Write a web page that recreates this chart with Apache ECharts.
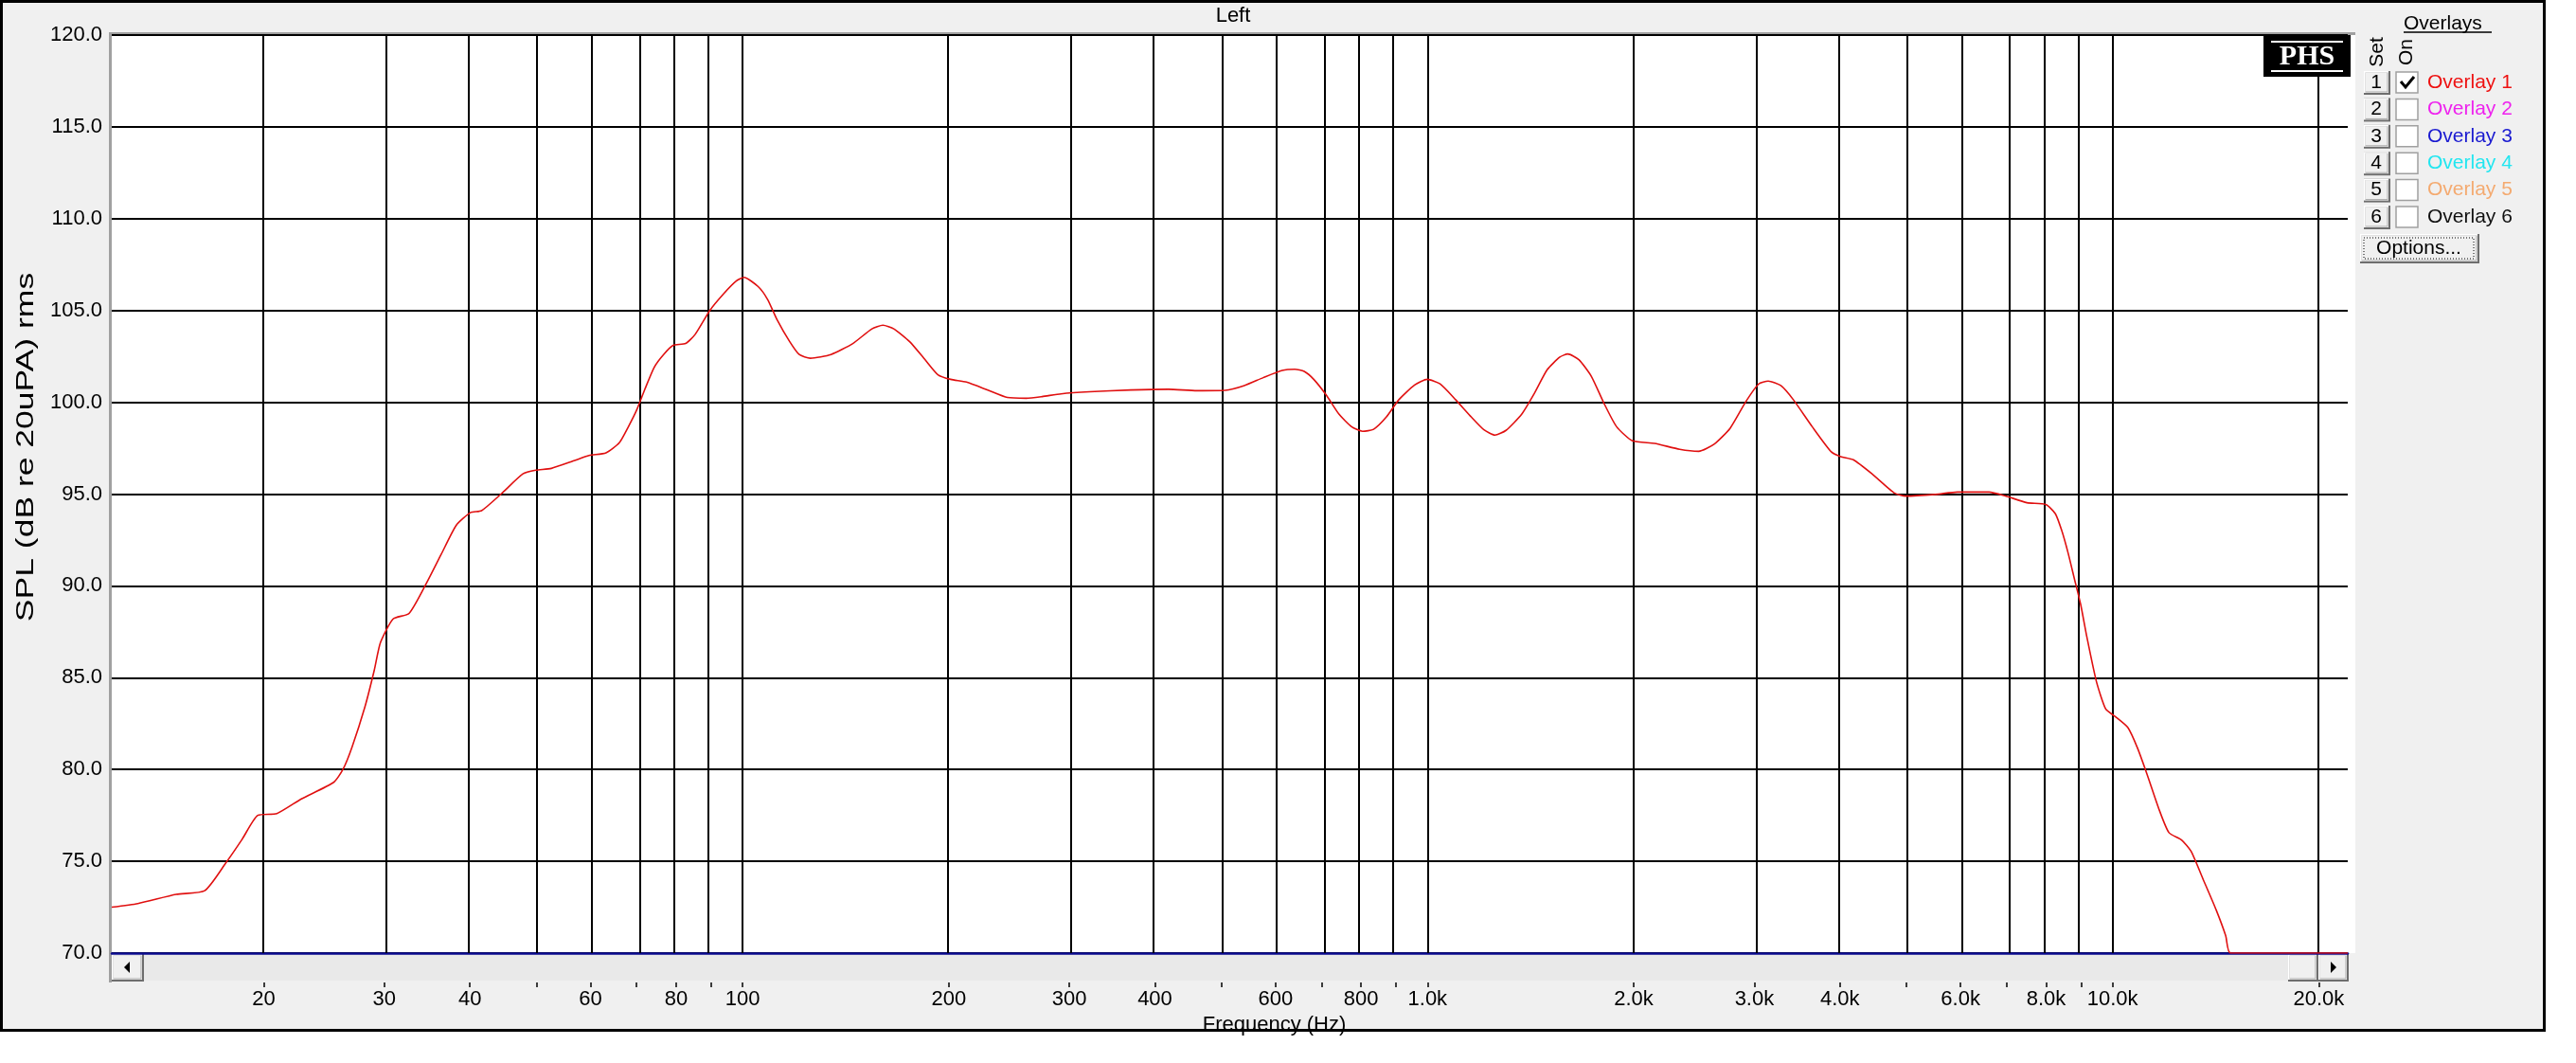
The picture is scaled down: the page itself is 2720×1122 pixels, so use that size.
<!DOCTYPE html>
<html><head><meta charset="utf-8">
<script src="https://cdn.jsdelivr.net/npm/echarts@6/dist/echarts.min.js"></script>
<style>html,body{margin:0;padding:0;background:#fff;overflow:hidden}#c{width:2720px;height:1122px}</style>
</head><body><div id="c"></div>
<script>
// ---- data ----
const freqHz = [12.0,13.1,14.9,16.4,17.6,18.6,19.6,20.9,22.7,25.3,26.1,26.9,28.1,29.0,29.6,30.9,32.6,34.4,36.3,38.2,40.1,41.6,44.4,47.8,49.9,52.6,56.6,59.7,63.2,66.1,68.2,70.1,72.0,74.3,76.7,79.2,82.6,85.3,89.6,93.8,97.9,100.5,105.4,108.8,112.3,117.2,121,125.6,134.6,144.9,154.5,160.3,166.3,175.4,184.9,192.9,201.3,212.3,228.6,243.6,259.6,273.8,291.8,321,368.6,418.8,460.6,506.7,540.2,575.6,613.4,640.1,660.7,682.1,711.6,742.4,774.6,803.7,834.2,870.4,908.2,957.5,999,1043,1099,1159,1209,1254,1302,1373,1433,1495,1560,1602,1663,1734,1809,1888,1991,2145,2334,2488,2623,2766,2917,3044,3143,3279,3420,3644,3885,4010,4184,4459,4802,4990,5512,5939,6602,6963,7499,7991,8252,8429,8609,8794,8983,9176,9473,9775,10093,10531,10873,11224,11711,12089,12612,13019,13585,14172,14631,14866,22050];
const splDb = [72.5,72.7,73.2,73.4,74.9,76.2,77.5,77.6,78.4,79.3,80.0,81.2,83.4,85.4,86.9,88.2,88.5,90.0,91.7,93.3,94.0,94.1,95.0,96.1,96.3,96.4,96.8,97.1,97.25,97.8,98.7,99.6,100.7,101.9,102.6,103.1,103.2,103.7,105.0,105.9,106.6,106.8,106.3,105.6,104.5,103.3,102.6,102.4,102.6,103.2,104.0,104.2,104.0,103.3,102.3,101.5,101.25,101.1,100.65,100.26,100.22,100.31,100.46,100.57,100.67,100.71,100.63,100.65,100.91,101.34,101.73,101.8,101.68,101.25,100.39,99.36,98.67,98.42,98.53,99.19,100.14,100.94,101.25,101.0,100.14,99.19,98.5,98.21,98.47,99.36,100.5,101.77,102.46,102.63,102.32,101.42,99.96,98.67,97.9,97.76,97.44,97.33,97.73,98.59,100.05,101.0,101.15,100.91,100.14,98.67,97.3,97.04,96.87,96.09,95.06,94.89,94.98,95.11,95.11,94.91,94.53,94.43,93.93,93.02,91.82,90.41,89.0,87.2,84.79,83.29,82.88,82.28,81.18,79.77,77.76,76.56,76.16,75.55,73.95,72.34,70.94,70.0,70.0];
const gridFreqs = [20,30,40,50,60,70,80,90,100,200,300,400,500,600,700,800,900,1000,2000,3000,4000,5000,6000,7000,8000,9000,10000,20000];
const labelFreqs = [20,30,40,60,80,100,200,300,400,600,800,1000,2000,3000,4000,6000,8000,10000,20000];
const yTicks = [70,75,80,85,90,95,100,105,110,115,120];
const overlayNames = ['Overlay 1','Overlay 2','Overlay 3','Overlay 4','Overlay 5','Overlay 6'];
const overlayColors = ['#ee1111','#ee22ee','#1a1ad0','#22e6f0','#f4aa70','#111111'];
const overlayOn = [true,false,false,false,false,false];

const FONT = "'Liberation Sans', Arial, sans-serif";
const lg = Math.log10;
function fmtFreq(v){
  let best = labelFreqs[0];
  labelFreqs.forEach(x => { if (Math.abs(lg(x) - v) < Math.abs(lg(best) - v)) best = x; });
  return best < 1000 ? String(best) : (best/1000).toFixed(1) + 'k';
}

const graphics = [];
// outer frame
graphics.push({type:'rect', z:-10, shape:{x:1.5,y:1.5,width:2685,height:1086}, style:{fill:'#f0f0f0', stroke:'#000', lineWidth:3}});
// plot background
graphics.push({type:'rect', z:-9, shape:{x:118,y:37,width:2369,height:969}, style:{fill:'#fff'}});
graphics.push({type:'rect', z:-8, shape:{x:115,y:34,width:2372,height:3}, style:{fill:'#a0a0a0'}});
graphics.push({type:'rect', z:-8, shape:{x:115,y:34,width:3,height:1003}, style:{fill:'#a0a0a0'}});
// scrollbar
graphics.push({type:'rect', z:-8, shape:{x:118,y:1007,width:2362,height:28}, style:{fill:'#e9e9e9'}});
function button(x,y,w,h,z){
  return [
    {type:'rect', z:z, shape:{x:x,y:y,width:w,height:h}, style:{fill:'#6e6e6e'}},
    {type:'rect', z:z, shape:{x:x,y:y,width:w-2,height:h-2}, style:{fill:'#ffffff'}},
    {type:'rect', z:z, shape:{x:x+1.5,y:y+1.5,width:w-4,height:h-4}, style:{fill:'#a8a8a8'}},
    {type:'rect', z:z, shape:{x:x+1.5,y:y+1.5,width:w-5,height:h-5}, style:{fill:'#f0f0f0'}}
  ];
}
graphics.push(...button(118,1007,34,29,-7));
graphics.push({type:'polygon', z:-6, shape:{points:[[131,1021],[137,1015],[137,1027]]}, style:{fill:'#000'}});
graphics.push(...button(2416,1007,32,29,-7));
graphics.push(...button(2448,1007,32,29,-7));
graphics.push({type:'polygon', z:-6, shape:{points:[[2467,1021],[2461,1015],[2461,1027]]}, style:{fill:'#000'}});
// title
graphics.push({type:'text', z:5, style:{x:1302,y:17,text:'Left',font:'22px '+FONT,fill:'#000',align:'center',verticalAlign:'middle'}});
// y axis title (stretched along its length like the reference)
graphics.push({type:'text', z:5, x:28, y:472, rotation:Math.PI/2, scaleX:1.42, scaleY:1,
  style:{x:0,y:0,text:'SPL (dB re 20uPA) rms',font:'25px '+FONT,fill:'#000',align:'center',verticalAlign:'middle'}});
// PHS logo
graphics.push({type:'rect', z:20, shape:{x:2390,y:37,width:92,height:44}, style:{fill:'#000'}});
graphics.push({type:'line', z:21, shape:{x1:2398,y1:44,x2:2474,y2:44}, style:{stroke:'#fff',lineWidth:2}});
graphics.push({type:'line', z:21, shape:{x1:2398,y1:75,x2:2474,y2:75}, style:{stroke:'#fff',lineWidth:2}});
graphics.push({type:'text', z:21, style:{x:2436,y:60,text:'PHS',font:"bold 30px 'Liberation Serif', 'Times New Roman', serif",fill:'#fff',align:'center',verticalAlign:'middle'}});
// overlays panel
graphics.push({type:'text', z:5, style:{x:2538,y:25,text:'Overlays',font:'21px '+FONT,fill:'#000',align:'left',verticalAlign:'middle'}});
graphics.push({type:'line', z:5, shape:{x1:2538,y1:34,x2:2631,y2:34}, style:{stroke:'#000',lineWidth:1.5}});
graphics.push({type:'text', z:5, x:2510, y:55, rotation:Math.PI/2, style:{x:0,y:0,text:'Set',font:'21px '+FONT,fill:'#000',align:'center',verticalAlign:'middle'}});
graphics.push({type:'text', z:5, x:2541, y:55, rotation:Math.PI/2, style:{x:0,y:0,text:'On',font:'21px '+FONT,fill:'#000',align:'center',verticalAlign:'middle'}});
overlayNames.forEach((name,i) => {
  const yc = 87 + i*28.4;
  graphics.push(...button(2496, yc-12, 28, 25, 5));
  graphics.push({type:'text', z:6, style:{x:2509,y:yc,text:String(i+1),font:'21px '+FONT,fill:'#000',align:'center',verticalAlign:'middle'}});
  graphics.push({type:'rect', z:5, shape:{x:2530,y:yc-11,width:23,height:22}, style:{fill:'#fff',stroke:'#a0a0a0',lineWidth:1.5}});
  if (overlayOn[i]) graphics.push({type:'polyline', z:6, shape:{points:[[2535,yc-1],[2540,yc+5],[2549,yc-6]]}, style:{stroke:'#000',lineWidth:3,fill:null}});
  graphics.push({type:'text', z:5, style:{x:2563,y:yc,text:name,font:'21px '+FONT,fill:overlayColors[i],align:'left',verticalAlign:'middle'}});
});
graphics.push(...button(2492,247,126,31,5));
graphics.push({type:'rect', z:6, shape:{x:2496,y:251,width:116,height:22}, style:{fill:null,stroke:'#000',lineWidth:1,lineDash:[1,2]}});
graphics.push({type:'text', z:6, style:{x:2554,y:262,text:'Options...',font:'21px '+FONT,fill:'#000',align:'center',verticalAlign:'middle'}});

const chart = echarts.init(document.getElementById('c'), null, {renderer:'canvas'});
const xMin = lg(12), xMax = lg(22050);
chart.setOption({
  animation:false,
  backgroundColor:'#ffffff',
  graphic:{elements:graphics},
  grid:{left:118, right:241, top:37, bottom:116, containLabel:false},
  xAxis:[{
    type:'value', min:xMin, max:xMax, gridIndex:0,
    axisLine:{show:true, onZero:false, lineStyle:{color:'#0c0c90', width:2.5}},
    axisTick:{show:false}, axisLabel:{show:false}, splitLine:{show:false}
  },{
    type:'value', min:xMin, max:xMax, gridIndex:0, position:'bottom', offset:31,
    axisLine:{show:false},
    axisTick:{show:true, length:5, customValues: gridFreqs.map(lg), lineStyle:{color:'#000', width:1.5}},
    axisLabel:{show:true, customValues: labelFreqs.map(lg), formatter: fmtFreq, fontSize:22, fontFamily:FONT, color:'#000', margin:7},
    splitLine:{show:false},
    name:'Frequency (Hz)', nameLocation:'middle', nameGap:28,
    nameTextStyle:{fontSize:22, fontFamily:FONT, color:'#000', padding:[0,0,0,94]}
  }],
  yAxis:{
    type:'value', min:yTicks[0], max:yTicks[yTicks.length-1], interval:5,
    axisLine:{show:false}, axisTick:{show:false},
    axisLabel:{formatter:v=>v.toFixed(1), fontSize:22, fontFamily:FONT, color:'#000', margin:10},
    splitLine:{show:true, lineStyle:{color:'#000', width:2}}
  },
  series:[{
    type:'line', xAxisIndex:0, z:1, data:[], silent:true,
    markLine:{silent:true, symbol:['none','none'], z:1, label:{show:false},
      lineStyle:{color:'#000', width:2, type:'solid'},
      data: gridFreqs.map(f => ({xAxis: lg(f)}))}
  },{
    type:'line', xAxisIndex:0, z:5, name:'Overlay 1',
    data: freqHz.map((f,i) => [lg(f), splDb[i]]),
    showSymbol:false, smooth:0.2,
    lineStyle:{color:'#e01010', width:1.6}
  }]
});
</script></body></html>
